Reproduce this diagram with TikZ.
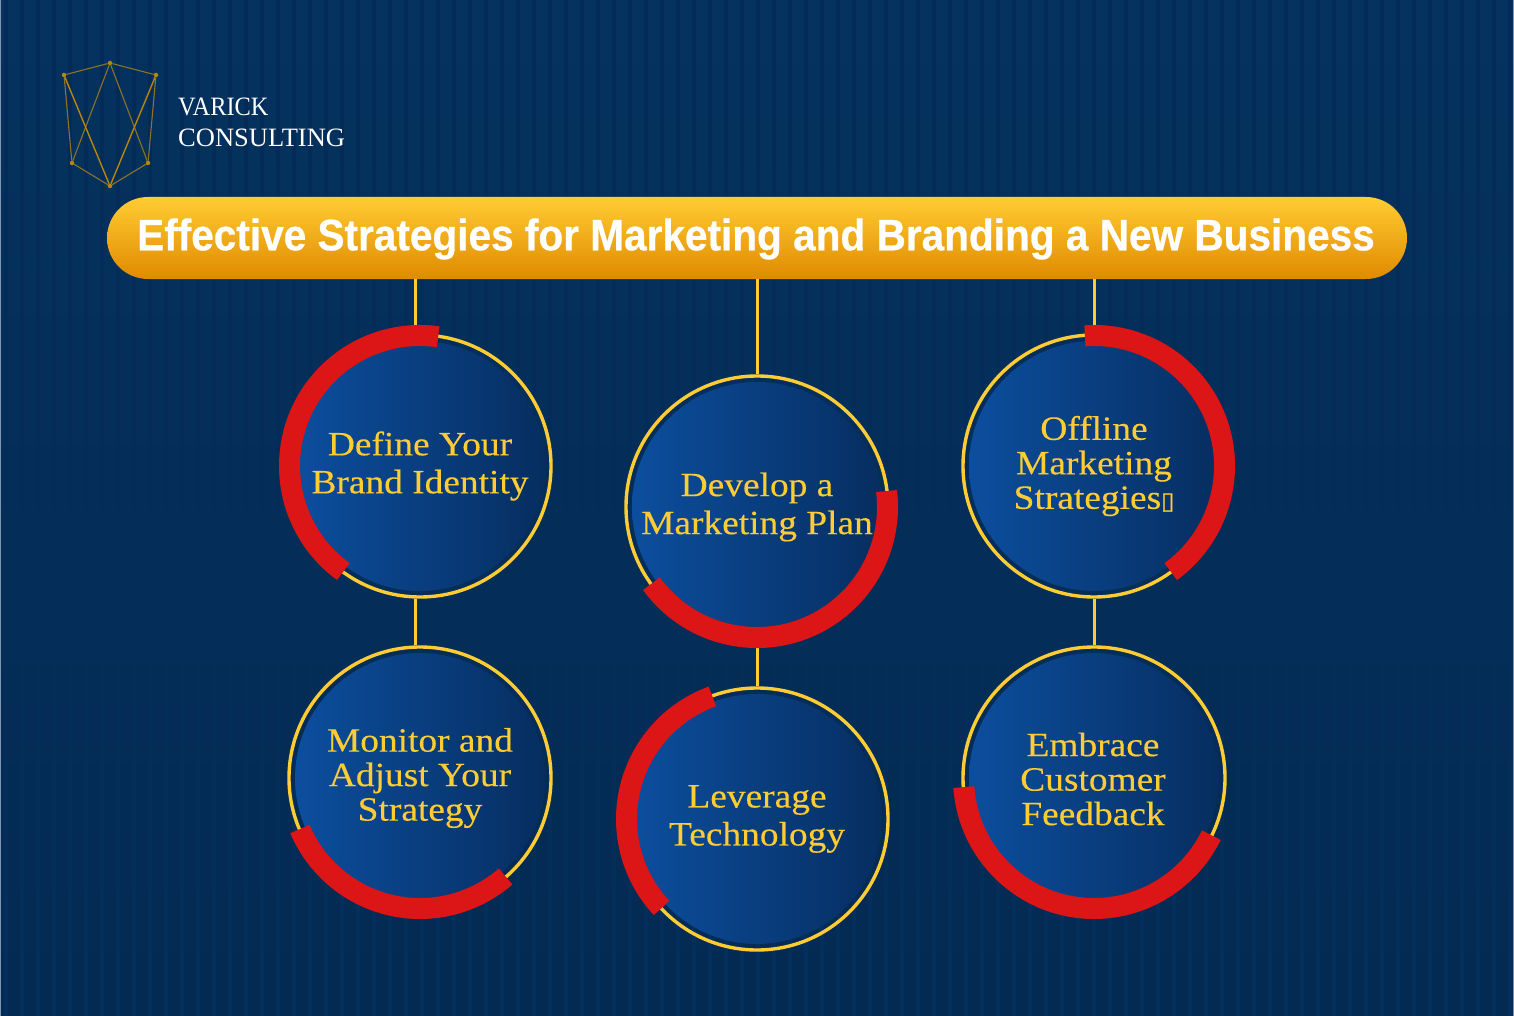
\documentclass[tikz,border=0pt]{standalone}
\usepackage{fontspec}
\setmainfont{Liberation Serif}
\newfontfamily\titlefont[FakeStretch=0.922,FakeBold=0.6]{Liberation Sans}
\newfontfamily\labelfont[FakeStretch=1.10,FakeBold=0.25]{Liberation Serif}
\newfontfamily\brandtight[FakeStretch=0.92]{Liberation Serif}
\newfontfamily\boxfont[FakeBold=0.8]{DejaVu Sans}
\definecolor{bgtop}{HTML}{05325F}
\definecolor{bgbot}{HTML}{032A52}
\definecolor{stripetop}{HTML}{042B57}
\definecolor{stripebot}{HTML}{042E5B}
\definecolor{edgeline}{HTML}{7F95B0}
\definecolor{gold}{HTML}{FFCC33}
\definecolor{pillbot}{HTML}{E08A00}
\definecolor{discl}{HTML}{0C4E9E}
\definecolor{discr}{HTML}{062E60}
\definecolor{redarc}{HTML}{DC1616}
\definecolor{logothick}{HTML}{B8860B}
\definecolor{logothin}{HTML}{8A7428}
\tikzset{
  ring/.style={circle,draw=gold,line width=3.4pt,minimum size=262pt,inner sep=0pt},
  disc/.style={circle,minimum size=250pt,inner sep=0pt,left color=discl,right color=discr},
  arcred/.style={draw=redarc,line width=21pt,line cap=butt},
  conn/.style={draw=gold,line width=3pt},
  label3/.style={text=gold,align=center,inner sep=0pt,font=\labelfont\fontsize{34}{34.5}\selectfont},
  label2/.style={text=gold,align=center,inner sep=0pt,font=\labelfont\fontsize{34}{38}\selectfont},
  dot/.style={circle,fill=logothick,minimum size=4.5pt,inner sep=0pt},
  lthick/.style={draw=logothick,line width=1.4pt},
  lthin/.style={draw=logothin,line width=1.1pt},
  brand/.style={text=white,anchor=base west,inner sep=0pt,font=\fontsize{26.5}{30}\selectfont}
}
\begin{document}
\begin{tikzpicture}[x=1pt,y=-1pt]
\useasboundingbox (0,0) rectangle (1514,1016);
\fill[top color=bgtop,bottom color=bgbot] (0,0) rectangle (1514,1016);
\foreach \x in {4,20,...,1514}{
  \fill[top color=stripetop,bottom color=stripebot] (\x,0) rectangle (\x+4,1016);
}
\fill[edgeline] (0,0) rectangle (1,1016);
\fill[edgeline] (1513,0) rectangle (1514,1016);
% logo
\node[dot] (la) at (64,75) {};
\node[dot] (lb) at (110,63) {};
\node[dot] (lc) at (156,75) {};
\node[dot] (ld) at (148,163) {};
\node[dot] (le) at (110,186) {};
\node[dot] (lf) at (72,163) {};
\draw[lthin] (la)--(lb)--(lc)--(ld)--(le)--(lf)--(la);
\draw[lthin] (lb)--(lf) (lb)--(ld);
\draw[lthick] (la)--(le)--(lc);
\node[brand] (brand1) at (178,116) {\brandtight VARICK};
\node[brand] (brand2) at (178,147) {CONSULTING};
% title
\node[rectangle,rounded corners=41pt,minimum width=1300pt,minimum height=82pt,inner sep=0pt,
  top color=gold,bottom color=pillbot] (title) at (757,238) {};
\node[text=white,font=\titlefont\bfseries\fontsize{44}{48}\selectfont,inner sep=0pt] (titletext) at (756,239)
  {Effective Strategies for Marketing and Branding a New Business};
% rings
\node[ring] (c1) at (420,466) {};
\node[ring] (c2) at (757,507) {};
\node[ring] (c3) at (1094,466) {};
\node[ring] (c4) at (420,778) {};
\node[ring] (c5) at (757,819) {};
\node[ring] (c6) at (1094,778) {};
% connectors
\draw[conn] ([xshift=-5pt]c1.north |- title.south) -- ([xshift=-5pt]c1.north);
\draw[conn] (c2.north |- title.south) -- (c2.north);
\draw[conn] (c3.north |- title.south) -- (c3.north);
\draw[conn] ([xshift=-5pt]c1.south) -- ([xshift=-5pt]c4.north);
\draw[conn] (c2.south) -- (c5.north);
\draw[conn] (c3.south) -- (c6.north);
% discs
\foreach \n in {1,...,6}{ \node[disc] (d\n) at (c\n.center) {}; }
% red arcs (angles counter-clockwise, as seen)
\foreach \n/\a/\b in {1/82/234,2/216/367,3/-54/94,4/203/311,5/110/223,6/184/334}{
  \draw[arcred] (c\n.center) ++(\a:130.5pt) arc[start angle=\a,end angle=\b,radius=130.5pt];
}
% labels
\node[label2] (t1) at (420,466) {Define Your\\Brand Identity};
\node[label2] (t2) at (757,507) {Develop a\\Marketing Plan};
\node[label3] (t3) at (1094,466) {Offline\\Marketing\\Strategies{\boxfont\fontsize{24}{24}\selectfont ▯}};
\node[label3] (t4) at (420,778) {Monitor and\\Adjust Your\\Strategy};
\node[label2] (t5) at (757,819) {Leverage\\Technology};
\node[label3] (t6) at (1093,779) {Embrace\\Customer\\Feedback};
\end{tikzpicture}
\end{document}
